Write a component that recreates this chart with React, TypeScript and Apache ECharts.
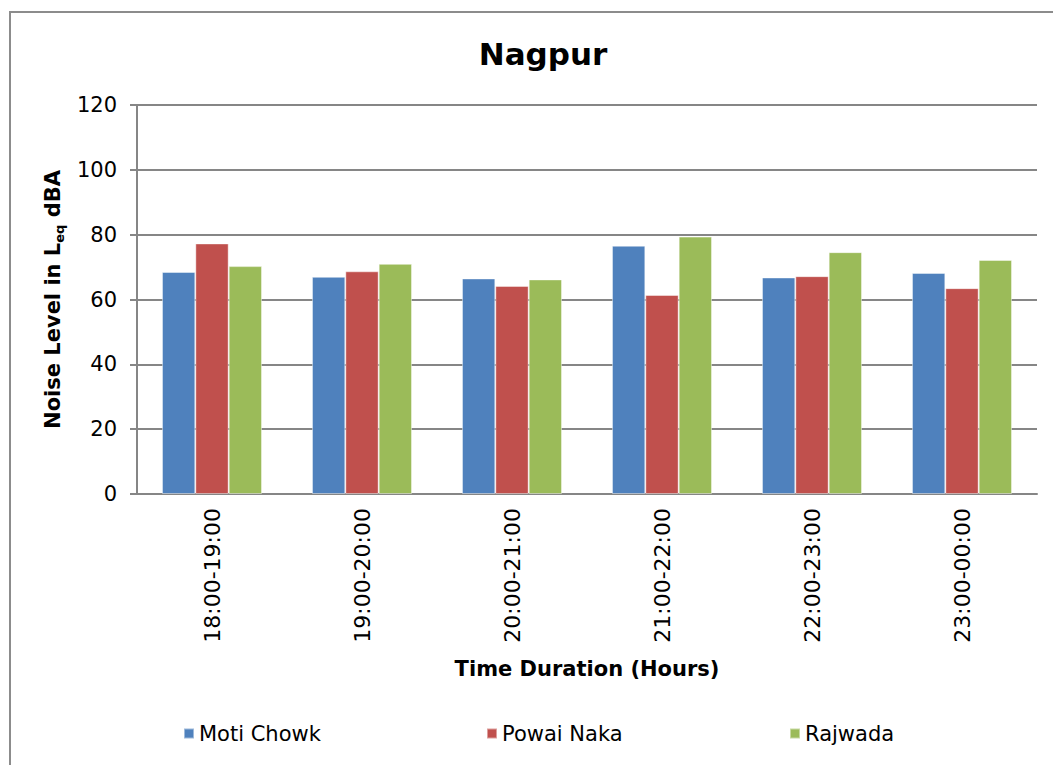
import React, { useEffect, useRef } from "react";
import * as echarts from "echarts";

const categories = ["18:00-19:00", "19:00-20:00", "20:00-21:00", "21:00-22:00", "22:00-23:00", "23:00-00:00"];
const motiChowk = [68.5, 67.0, 66.5, 76.6, 66.8, 68.2];
const powaiNaka = [77.3, 68.7, 64.2, 61.4, 67.2, 63.5];
const rajwada = [70.3, 71.0, 66.2, 79.4, 74.6, 72.2];
const seriesNames = ["Moti Chowk", "Powai Naka", "Rajwada"];
const seriesColors = ["#4F81BD", "#C0504D", "#9BBB59"];

const FONT = "DejaVu Sans, Verdana, sans-serif";

export default function App() {
  const ref = useRef<HTMLDivElement>(null);
  useEffect(() => {
    document.body.style.margin = "0";
    if (!ref.current) return;
    const chart = echarts.init(ref.current, null, { renderer: "svg" });
    const values = [motiChowk, powaiNaka, rajwada];
    const legendLefts = [178, 481, 784];
    chart.setOption({
      animation: false,
      backgroundColor: "#ffffff",
      textStyle: { fontFamily: FONT },
      title: {
        text: "Nagpur",
        left: 538,
        top: 33,
        textAlign: "center",
        textStyle: { fontFamily: FONT, fontSize: 31, fontWeight: "bold", color: "#000" },
      },
      graphic: [
        {
          type: "rect",
          shape: { x: 10, y: 12, width: 1100, height: 800 },
          style: { fill: "none", stroke: "#8c8c8c", lineWidth: 2 },
          silent: true,
          z: -1,
        },
      ],
      legend: seriesNames.map((n, i) => ({
        data: [n],
        left: legendLefts[i],
        top: 718,
        itemWidth: 10,
        itemHeight: 10,
        icon: "rect",
        itemGap: 4,
        textStyle: { fontFamily: FONT, fontSize: 21, color: "#000", padding: [0, 0, 0, 0] },
      })),
      grid: { left: 137, right: 16, top: 105, bottom: 271, containLabel: false },
      xAxis: {
        type: "category",
        data: categories,
        name: "Time Duration (Hours)",
        nameLocation: "middle",
        nameGap: 164,
        nameTextStyle: { fontFamily: FONT, fontSize: 21, fontWeight: "bold", color: "#000" },
        axisLine: { lineStyle: { color: "#868686", width: 2 } },
        axisTick: { show: false },
        axisLabel: { rotate: 90, fontSize: 22, color: "#000", margin: 14, fontFamily: FONT },
      },
      yAxis: {
        type: "value",
        min: 0,
        max: 120,
        interval: 20,
        name: "{a|Noise Level in L}{b|eq}{a| dBA}",
        nameLocation: "middle",
        nameGap: 68,
        nameTextStyle: {
          rich: {
            a: { fontFamily: FONT, fontSize: 21, fontWeight: "bold", color: "#000", lineHeight: 26 },
            b: { fontFamily: FONT, fontSize: 13, fontWeight: "bold", color: "#000", verticalAlign: "bottom", lineHeight: 15 },
          },
        },
        axisLine: { show: true, lineStyle: { color: "#868686", width: 2 } },
        axisTick: { show: true, length: 7, lineStyle: { color: "#868686", width: 2 } },
        axisLabel: { fontSize: 21, color: "#000", margin: 20, fontFamily: FONT },
        splitLine: { lineStyle: { color: "#868686", width: 2 } },
      },
      series: seriesNames.map((n, i) => ({
        name: n,
        type: "bar",
        data: values[i],
        barGap: "0%",
        barCategoryGap: "33.3%",
        itemStyle: { color: seriesColors[i], borderColor: "rgba(255,255,255,0.45)", borderWidth: 1 },
      })),
    });
    return () => chart.dispose();
  }, []);
  return <div ref={ref} style={{ width: 1053, height: 765 }} />;
}
